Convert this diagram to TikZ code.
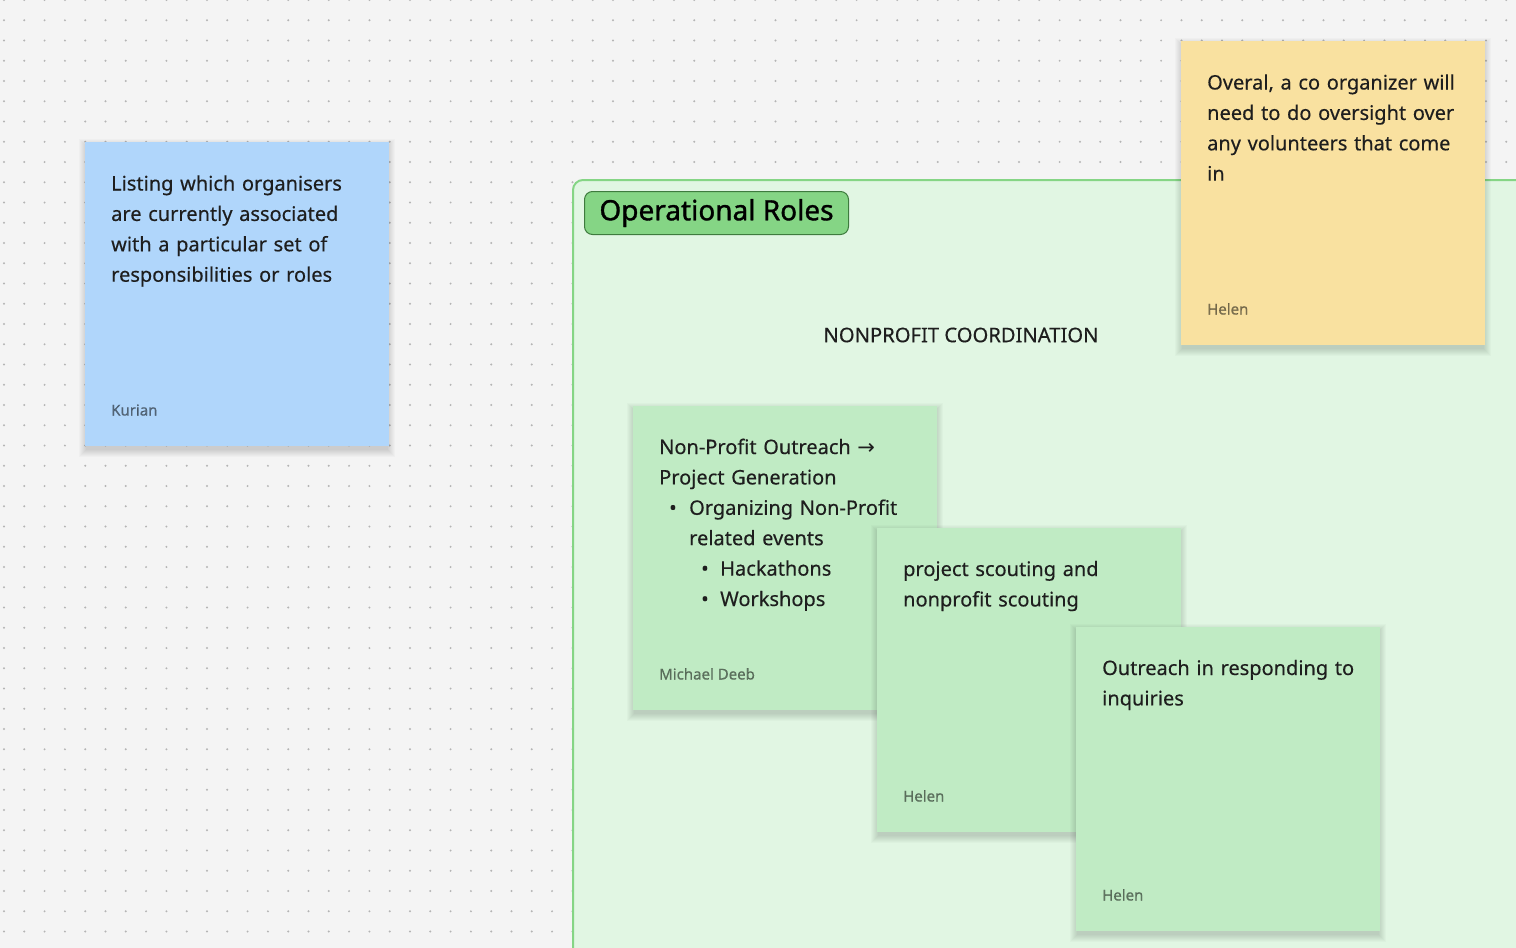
\documentclass[tikz,border=0pt]{standalone}
\usepackage{fontspec}
\setmainfont{Noto Sans}[FakeBold=0.3]
\newfontfamily\bodyfont{Noto Sans}[FakeBold=0.35]
\newfontfamily\titlefont{Noto Sans}[FakeBold=1.2]
\newfontfamily\arrowfont{DejaVu Sans}
\usetikzlibrary{calc}
\definecolor{bg}{HTML}{F4F4F4}
\definecolor{griddot}{HTML}{B4B4B4}
\definecolor{bluenote}{HTML}{B0D6FB}
\definecolor{yellownote}{HTML}{F9E1A0}
\definecolor{greennote}{HTML}{C0EBC4}
\definecolor{framefill}{HTML}{E1F6E3}
\definecolor{frameline}{HTML}{85D585}
\definecolor{badgefill}{HTML}{85D585}
\definecolor{badgeline}{HTML}{3E7B3E}
\definecolor{ink}{HTML}{1E1E1E}
\newcommand{\notesoftshadow}[2]{%
  \foreach \k in {1,...,8}{
    \fill[black, opacity=0.018] ({#1-\k+2},{#2-\k+5}) rectangle ({#1+304+\k-2},{#2+304+\k+3});
  }}
\begin{document}
\begin{tikzpicture}[x=1pt,y=-1pt,
  sticky/.style={draw=none, minimum width=304pt, minimum height=304pt, inner sep=0pt, anchor=north west},
  body/.style={anchor=base west, inner sep=0pt, text width=275pt, align=left,
    font=\bodyfont\fontsize{20}{30.4}\selectfont, text=ink},
  author/.style={anchor=base west, inner sep=0pt, font=\fontsize{15}{18}\selectfont, text=black, text opacity=0.5},
]
\path[use as bounding box, fill=bg] (0,0) rectangle (1516,948);
\clip (0,0) rectangle (1516,948);
% dot grid
\foreach \i in {0,...,74}{
  \foreach \j in {0,...,47}{
    \fill[griddot] ({4+20.3*\i},{20.25*\j}) circle (1.1pt);
  }
}
% blue note
\notesoftshadow{85}{142}
\node[sticky, fill=bluenote] (blue) at (85,142) {};
\node[body] (bluetext) at ($(blue.north west)+(26,48.5)$) {Listing which organisers\\are currently associated\\with a particular set of\\responsibilities or roles};
\node[author] (blueauthor) at ($(blue.north west)+(26,273.5)$) {Kurian};
% section frame
\draw[fill=framefill, draw=frameline, line width=2pt, rounded corners=10pt] (573,180) rectangle (1560,1000);
\node[anchor=north west, minimum width=264pt, minimum height=43pt, inner sep=0pt, fill=badgefill, draw=badgeline,
  line width=1pt, rounded corners=8pt, font=\titlefont\fontsize{28}{30}\selectfont, text=black] (badge) at (584,191) {\raisebox{-2pt}{Operational Roles}};
\node[font=\fontsize{20.2}{24}\selectfont, text=ink] (heading) at (961,335) {NONPROFIT COORDINATION};
% yellow note
\notesoftshadow{1181}{41}
\node[sticky, fill=yellownote] (yellow) at (1181,41) {};
\node[body] (yellowtext) at ($(yellow.north west)+(26,48.5)$) {Overal, a co organizer will\\need to do oversight over\\any volunteers that come\\in};
\node[author] (yellowauthor) at ($(yellow.north west)+(26,273.5)$) {Helen};
% green note 1
\notesoftshadow{633}{406}
\node[sticky, fill=greennote] (g1) at (633,406) {};
\node[body] (g1text) at ($(g1.north west)+(26,48)$) {Non-Profit Outreach {\arrowfont\fontsize{21}{20}\selectfont →}\\
Project Generation\\
\makebox[30pt][l]{\hspace{10pt}•}Organizing Non-Profit\\
\hspace*{30pt}related events\\
\hspace*{42pt}\makebox[19pt][l]{•}Hackathons\\
\hspace*{42pt}\makebox[19pt][l]{•}Workshops};
\node[author] (g1author) at ($(g1.north west)+(26,273.5)$) {Michael Deeb};
% green note 2
\notesoftshadow{877}{528}
\node[sticky, fill=greennote] (g2) at (877,528) {};
\node[body] (g2text) at ($(g2.north west)+(26,48)$) {project scouting and\\nonprofit scouting};
\node[author] (g2author) at ($(g2.north west)+(26,273.5)$) {Helen};
% green note 3
\notesoftshadow{1076}{627}
\node[sticky, fill=greennote] (g3) at (1076,627) {};
\node[body] (g3text) at ($(g3.north west)+(26,48)$) {Outreach in responding to\\inquiries};
\node[author] (g3author) at ($(g3.north west)+(26,273.5)$) {Helen};
\end{tikzpicture}
\end{document}
